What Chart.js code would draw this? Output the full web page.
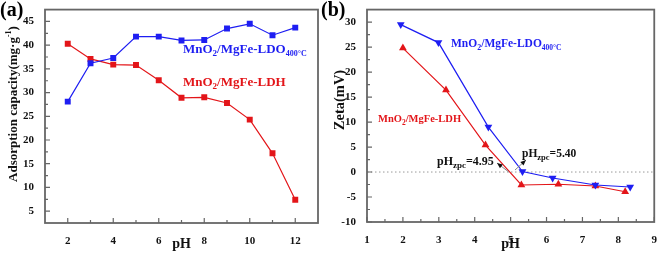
<!DOCTYPE html>
<html>
<head>
<meta charset="utf-8">
<script src="https://cdn.jsdelivr.net/npm/chart.js@4.4.0/dist/chart.umd.min.js"></script>
<style>
  body { margin: 0; background: #fff; width: 661px; height: 254px; overflow: hidden; position: relative; }
  .box { position: absolute; top: 0; height: 254px; }
  #boxA { left: 0; width: 330px; }
  #boxB { left: 330px; width: 331px; }
  .tag { position: absolute; top: -2px; font: bold 20px 'Liberation Serif', serif; z-index: 2; }
</style>
</head>
<body>
<div class="box" id="boxA"><canvas id="chartA" width="330" height="254"></canvas></div>
<div class="box" id="boxB"><canvas id="chartB" width="331" height="254"></canvas></div>
<div class="tag" style="left:0px">(a)</div>
<div class="tag" style="left:321px">(b)</div>
<script>
'use strict';

// panel (a): adsorption capacity vs pH
const phA = [2, 3, 4, 5, 6, 7, 8, 9, 10, 11, 12];
const ldoA = [28.1, 36.2, 37.3, 41.8, 41.8, 41.0, 41.1, 43.5, 44.5, 42.1, 43.7];
const ldhA = [40.3, 37.1, 35.9, 35.8, 32.6, 28.9, 29.0, 27.8, 24.3, 17.2, 7.4];
const ticksAx = [2, 4, 6, 8, 10, 12];
const ticksAy = [5, 10, 15, 20, 25, 30, 35, 40, 45];

// panel (b): zeta potential vs pH
const phLdoB = [1.94, 2.99, 4.38, 5.33, 6.17, 7.36, 8.33];
const zetaLdoB = [29.5, 25.9, 9.0, 0.1, -1.2, -2.6, -3.0];
const phLdhB = [2.0, 3.2, 4.3, 5.3, 6.33, 7.36, 8.19];
const zetaLdhB = [24.8, 16.4, 5.4, -2.6, -2.45, -2.8, -3.95];
const ticksBx = [1, 2, 3, 4, 5, 6, 7, 8, 9];
const ticksBy = [-10, -5, 0, 5, 10, 15, 20, 25, 30];
const zpcB = [4.95, 5.40];

const BLUE = '#1e1ef2';
const RED = '#e31519';
const FONT = "'Liberation Serif', serif";

function pairs(xs, ys) {
  return xs.map((x, i) => ({ x: x, y: ys[i] }));
}

function richWidth(ctx, parts) {
  let w = 0;
  ctx.save();
  parts.forEach(p => {
    ctx.font = 'bold ' + p[1] + 'px ' + FONT;
    w += ctx.measureText(p[0]).width;
  });
  ctx.restore();
  return w;
}

// draw text with sub/superscript pieces: [text, size, dy]
function drawRich(ctx, x, y, parts, color) {
  ctx.save();
  ctx.fillStyle = color;
  ctx.textBaseline = 'alphabetic';
  ctx.textAlign = 'left';
  parts.forEach(p => {
    ctx.font = 'bold ' + p[1] + 'px ' + FONT;
    ctx.fillText(p[0], x, y + (p[2] || 0));
    x += ctx.measureText(p[0]).width;
  });
  ctx.restore();
}

function arrow(ctx, x1, y1, x2, y2) {
  const a = Math.atan2(y2 - y1, x2 - x1);
  ctx.save();
  ctx.strokeStyle = '#888';
  ctx.lineWidth = 1;
  ctx.beginPath();
  ctx.moveTo(x1, y1);
  ctx.lineTo(x2, y2);
  ctx.stroke();
  ctx.fillStyle = '#111';
  ctx.beginPath();
  ctx.moveTo(x2, y2);
  ctx.lineTo(x2 - 6 * Math.cos(a - 0.4), y2 - 6 * Math.sin(a - 0.4));
  ctx.lineTo(x2 - 6 * Math.cos(a + 0.4), y2 - 6 * Math.sin(a + 0.4));
  ctx.closePath();
  ctx.fill();
  ctx.restore();
}

const framePlugin = {
  id: 'frame',
  beforeDatasetsDraw(chart, args, opts) {
    if (!opts.zeroLine) return;
    const { ctx, chartArea } = chart;
    const y0 = chart.scales.y.getPixelForValue(0);
    ctx.save();
    ctx.strokeStyle = '#999';
    ctx.lineWidth = 1;
    ctx.setLineDash([1.5, 2.5]);
    ctx.beginPath();
    ctx.moveTo(chartArea.left, y0);
    ctx.lineTo(chartArea.right, y0);
    ctx.stroke();
    ctx.restore();
  },
  afterDatasetsDraw(chart, args, opts) {
    const { ctx, chartArea } = chart;
    const sx = chart.scales.x, sy = chart.scales.y;
    ctx.save();
    ctx.strokeStyle = '#666';
    ctx.lineWidth = 1.8;
    ctx.strokeRect(chartArea.left, chartArea.top, chartArea.right - chartArea.left, chartArea.bottom - chartArea.top);
    ctx.lineWidth = 1.2;
    ctx.beginPath();
    const xt = sx.ticks.map(t => t.value);
    xt.forEach((v, i) => {
      const px = sx.getPixelForValue(v);
      ctx.moveTo(px, chartArea.bottom);
      ctx.lineTo(px, chartArea.bottom - 5);
      if (i < xt.length - 1) {
        const pm = sx.getPixelForValue((v + xt[i + 1]) / 2);
        ctx.moveTo(pm, chartArea.bottom);
        ctx.lineTo(pm, chartArea.bottom - 3);
      }
    });
    const yt = sy.ticks.map(t => t.value);
    yt.forEach((v, i) => {
      const py = sy.getPixelForValue(v);
      ctx.moveTo(chartArea.left, py);
      ctx.lineTo(chartArea.left + 5, py);
      if (i < yt.length - 1) {
        const pm = sy.getPixelForValue((v + yt[i + 1]) / 2);
        ctx.moveTo(chartArea.left, pm);
        ctx.lineTo(chartArea.left + 3, pm);
      }
    });
    ctx.stroke();
    ctx.restore();

    // rotated y-axis title
    const t = opts.yTitle;
    const w = richWidth(ctx, t.parts);
    ctx.save();
    ctx.translate(t.x, t.y);
    ctx.rotate(-Math.PI / 2);
    drawRich(ctx, -w / 2, t.size * 0.35, t.parts, '#111');
    ctx.restore();

    (opts.labels || []).forEach(l => drawRich(ctx, l.x, l.y, l.parts, l.color));
    if (opts.zpc) {
      const xs = opts.zpc.map(v => sx.getPixelForValue(v));
      const y0 = sy.getPixelForValue(0);
      arrow(ctx, xs[0], y0, 167, 163);
      arrow(ctx, xs[1] - 10, y0 - 2, 196, 160);
    }
  }
};

function lineSet(label, data, color, style, rot, size) {
  return {
    label: label,
    data: data,
    borderColor: color,
    backgroundColor: color,
    borderWidth: 1.2,
    pointStyle: style,
    pointRotation: rot,
    pointRadius: size,
    pointBorderWidth: 0,
    tension: 0
  };
}

function makeChart(id, datasets, c) {
  const tickFont = { family: FONT, size: 11, weight: 'bold' };
  const titleFont = { family: FONT, size: 14, weight: 'bold' };
  return new Chart(document.getElementById(id).getContext('2d'), {
    type: 'line',
    data: { datasets: datasets },
    plugins: [framePlugin],
    options: {
      responsive: false,
      animation: false,
      layout: { padding: c.padding },
      plugins: {
        legend: { display: false },
        tooltip: { enabled: false },
        frame: c.frame
      },
      scales: {
        x: {
          type: 'linear',
          min: c.xMin, max: c.xMax,
          grid: { display: false },
          border: { display: false },
          ticks: { font: tickFont, color: '#111', padding: 4, maxRotation: 0 },
          afterBuildTicks: s => { s.ticks = c.xTicks.map(v => ({ value: v })); },
          afterFit: s => { s.height = c.xH; },
          title: { display: true, text: 'pH', font: titleFont, color: '#111', padding: { top: 0, bottom: 1 } }
        },
        y: {
          type: 'linear',
          min: c.yMin, max: c.yMax,
          grid: { display: false },
          border: { display: false },
          ticks: { font: tickFont, color: '#111', padding: 3 },
          afterBuildTicks: s => { s.ticks = c.yTicks.map(v => ({ value: v })); },
          afterFit: s => { s.width = c.yW; }
        }
      }
    }
  });
}

makeChart('chartA', [
  lineSet('MnO2/MgFe-LDO400°C', pairs(phA, ldoA), BLUE, 'rect', 0, 4.2),
  lineSet('MnO2/MgFe-LDH', pairs(phA, ldhA), RED, 'rect', 0, 4.2)
], {
  padding: { top: 3, right: 12, left: 0, bottom: 0 },
  xMin: 1, xMax: 13, yMin: 2.5, yMax: 47.5,
  xTicks: ticksAx, yTicks: ticksAy, xH: 31, yW: 45,
  frame: {
    yTitle: { x: 12, y: 104, size: 13, parts: [['Adsorption capacity(mg·g', 13], ['-1', 8, -6], [')', 13]] },
    labels: [
      { x: 183, y: 53, color: BLUE, parts: [['MnO', 13], ['2', 9, 3], ['/MgFe-LDO', 13], ['400°C', 8, 3]] },
      { x: 183, y: 86, color: RED, parts: [['MnO', 13], ['2', 9, 3], ['/MgFe-LDH', 13]] }
    ]
  }
});

makeChart('chartB', [
  lineSet('MnO2/MgFe-LDO400°C', pairs(phLdoB, zetaLdoB), BLUE, 'triangle', 180, 4.5),
  lineSet('MnO2/MgFe-LDH', pairs(phLdhB, zetaLdhB), RED, 'triangle', 0, 4.5)
], {
  padding: { top: 3, right: 6, left: 0, bottom: 0 },
  xMin: 1, xMax: 9, yMin: -10, yMax: 32.5,
  xTicks: ticksBx, yTicks: ticksBy, xH: 32, yW: 37,
  frame: {
    zeroLine: true,
    zpc: zpcB,
    yTitle: { x: 9, y: 100, size: 14.5, parts: [['Zeta(mV)', 14.5]] },
    labels: [
      { x: 121, y: 47, color: BLUE, parts: [['MnO', 11.5], ['2', 8, 3], ['/MgFe-LDO', 11.5], ['400°C', 7.5, 3]] },
      { x: 48, y: 122, color: RED, parts: [['MnO', 10.5], ['2', 7.5, 3], ['/MgFe-LDH', 10.5]] },
      { x: 107, y: 165, color: '#111', parts: [['pH', 12], ['zpc', 9, 3], ['=' + zpcB[0].toFixed(2), 12]] },
      { x: 192, y: 157, color: '#111', parts: [['pH', 11.5], ['zpc', 8.5, 3], ['=' + zpcB[1].toFixed(2), 11.5]] }
    ]
  }
});
</script>
</body>
</html>
